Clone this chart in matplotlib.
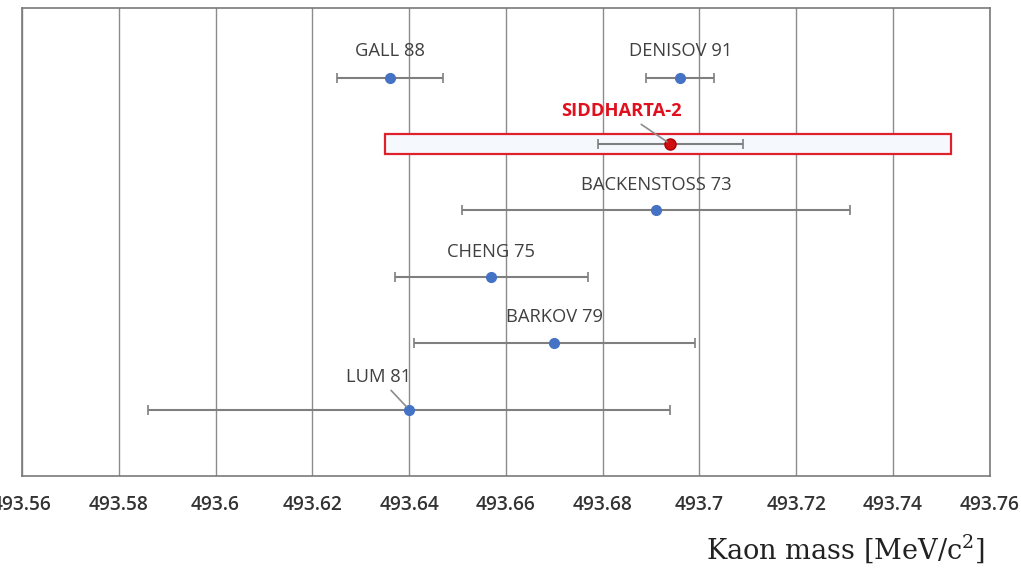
import matplotlib
matplotlib.use("Agg")
import matplotlib.pyplot as plt
from matplotlib.patches import Rectangle

# charged kaon mass measurements (MeV/c^2)
names = ["GALL 88", "DENISOV 91", "SIDDHARTA-2", "BACKENSTOSS 73", "CHENG 75", "BARKOV 79", "LUM 81"]
mass = [493.636, 493.696, 493.694, 493.691, 493.657, 493.670, 493.640]
err = [0.011, 0.007, 0.015, 0.040, 0.020, 0.029, 0.054]
row = [6, 6, 5, 4, 3, 2, 1]

# SIDDHARTA-2 band
band_lo, band_hi = 493.635, 493.752

xticks = [493.56, 493.58, 493.6, 493.62, 493.64, 493.66, 493.68, 493.7, 493.72, 493.74, 493.76]
xtick_labels = ["493.56", "493.58", "493.6", "493.62", "493.64", "493.66",
                "493.68", "493.7", "493.72", "493.74", "493.76"]

# label offsets in pixels (dx, dy) relative to each point
label_off = [(0, 27), (0, 27), (-49, 33), (0, 25), (0, 25), (0, 26), (-31, 33)]

plt.rcParams['font.family'] = ['Open Sans', 'DejaVu Sans']

fig = plt.figure(figsize=(10.21, 5.70), dpi=100)
ax = fig.add_axes([0.0215, 0.165, 0.948, 0.821])

ax.set_xlim(493.56, 493.76)
ax.set_ylim(0, 7.05)
ax.set_xticks(xticks)
ax.set_xticklabels(xtick_labels, fontsize=13.8, color='#333333', fontweight='semibold')
ax.set_yticks([])
ax.tick_params(axis='x', length=0, pad=14)
ax.grid(axis='x', color='#8c8c8c', lw=1)
ax.set_axisbelow(True)
for s in ax.spines.values():
    s.set_color('#7a7a7a')
    s.set_linewidth(1.2)

rect = Rectangle((band_lo, row[2] - 0.15), band_hi - band_lo, 0.30,
                 facecolor='#f5f9fe', edgecolor='#e0202a', lw=1.6, zorder=1)
ax.add_patch(rect)

for i, name in enumerate(names):
    red = name == "SIDDHARTA-2"
    ax.errorbar(mass[i], row[i], xerr=err[i], fmt='o',
                color='#d01010' if red else '#4472c4',
                ms=8 if red else 7,
                mec='#b00000' if red else '#4472c4',
                ecolor='#7f7f7f', elinewidth=1.5, capsize=3.5, capthick=1.2, zorder=3)
    dx, dy = label_off[i]
    arrow = dict(arrowstyle='-', color='#8c8c8c', lw=1.2, shrinkA=2, shrinkB=3) if dx else None
    ax.annotate(name, (mass[i], row[i]), xytext=(dx, dy), textcoords='offset pixels',
                ha='center', va='center', fontsize=13.2,
                color='#e0101e' if red else '#404040',
                fontweight='bold' if red else 'normal',
                arrowprops=arrow, zorder=4)

plt.rcParams['mathtext.fontset'] = 'dejavuserif'
fig.text(0.965, 0.036, r'$\mathrm{Kaon\ mass\ [MeV/c^2]}$', ha='right', va='center',
         fontsize=19.5, color='#222222')

fig.savefig("out.png", dpi=100)
